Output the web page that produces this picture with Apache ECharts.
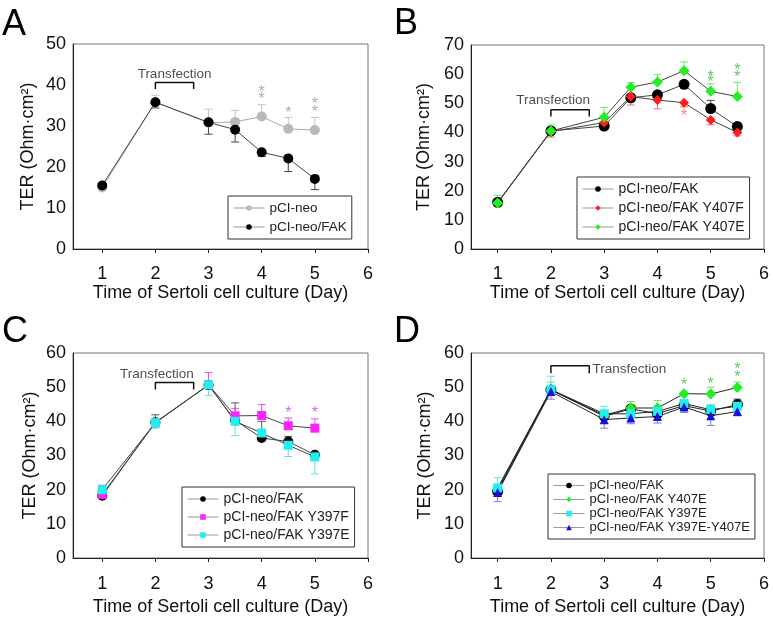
<!DOCTYPE html>
<html><head><meta charset="utf-8">
<script src="https://cdn.jsdelivr.net/npm/echarts@6/dist/echarts.min.js"></script>
<style>html,body{margin:0;padding:0;background:#fff}#c{width:773px;height:617px}</style>
</head><body><div id="c"></div>
<script>
// ---------- Panel A ----------
const xA = [1, 2, 3, 3.5, 4, 4.5, 5];
const A_neo = [15.0, 35.8, 30.8, 31.0, 32.3, 29.3, 29.0];
const A_neo_hi = [null, 37.5, 34.1, 33.8, 35.2, 32.1, 32.1];
const A_fak = [15.5, 35.8, 30.9, 29.1, 23.6, 22.1, 17.1];
const A_fak_lo = [null, 34.4, 28.0, 26.1, 22.6, 18.9, 14.5];
const A_stars = [[4, 38.9], [4, 37.1], [4.5, 33.7], [5, 36.0], [5, 34.1]];
const A_bracket = [[2, 39.0], [2, 40.6], [2.72, 40.6], [2.72, 39.0]];
const A_text = [2.36, 42.6];

// ---------- Panel B ----------
const xB = [1, 2, 3, 3.5, 4, 4.5, 5, 5.5];
const B_fak = [16.0, 40.5, 42.2, 51.9, 52.9, 56.5, 48.2, 42.0];
const B_fak_hi = [null, null, null, null, null, null, 51.0, 43.2];
const B_y407f = [15.8, 40.3, 43.4, 52.3, 51.1, 50.2, 44.3, 40.0];
const B_y407f_lo = [null, 38.4, null, 49.4, 48.1, 48.8, 42.6, 38.8];
const B_y407e = [15.8, 40.5, 45.2, 55.5, 57.3, 61.2, 54.1, 52.3];
const B_y407e_hi = [18.4, 42.6, 48.6, 57.1, 59.9, 64.2, 56.7, 57.2];
const B_red_stars = [[4.5, 46.6]];
const B_green_stars = [[5, 60.0], [5, 58.0], [5.5, 62.2], [5.5, 60.0]];
const B_bracket = [[2, 45.5], [2, 47.8], [2.72, 47.8], [2.72, 45.5]];
const B_text = [2.04, 51.1];

// ---------- Panel C ----------
const xC = [1, 2, 3, 3.5, 4, 4.5, 5];
const C_fak = [18.2, 39.7, 50.6, 40.3, 35.1, 34.1, 30.2];
const C_fak_hi = [null, 41.9, null, 45.4, 40.0, 35.6, 30.8];
const C_y397f = [18.6, 39.6, 50.7, 41.6, 41.7, 38.7, 38.0];
const C_y397f_hi = [21.3, null, 54.3, 43.8, 44.9, 41.0, 40.7];
const C_y397e = [20.0, 39.6, 50.7, 40.0, 36.6, 33.0, 29.6];
const C_y397e_lo = [null, 38.0, 47.5, 35.8, 34.5, 29.7, 24.6];
const C_stars = [[4.5, 43.1], [5, 43.0]];
const C_bracket = [[2, 49.3], [2, 51.4], [2.72, 51.4], [2.72, 49.3]];
const C_text = [2.03, 53.9];

// ---------- Panel D ----------
const xD = [1, 2, 3, 3.5, 4, 4.5, 5, 5.5];
const D_fak = [19.5, 49.2, 41.5, 43.6, 42.3, 44.6, 43.0, 44.9];
const D_fak_hi = [null, null, null, null, null, null, null, 46.5];
const D_y407e = [20.0, 49.2, 41.8, 43.9, 43.9, 48.1, 48.0, 49.9];
const D_y407e_hi = [null, 51.5, null, 45.8, 46.1, null, 50.0, 51.5];
const D_y397e = [20.5, 49.3, 42.2, 42.2, 42.9, 45.2, 43.4, 44.4];
const D_y397e_hi = [23.5, 53.2, 44.4, null, null, 46.3, 44.9, null];
const D_dbl = [19.2, 48.7, 40.5, 41.0, 41.4, 44.2, 41.6, 42.9];
const D_dbl_lo = [16.5, 46.5, 38.0, 39.3, 39.5, 42.6, 38.8, 41.6];
const D_stars = [[4.5, 51.4], [5, 51.7], [5.5, 56.1], [5.5, 53.6]];
const D_bracket = [[2, 54.1], [2, 56.3], [2.72, 56.3], [2.72, 54.1]];
const D_text = [2.78, 55.3];

const xTicks = [1, 2, 3, 4, 5, 6];
const FONT = '"Liberation Sans", Arial, sans-serif';

const chart = echarts.init(document.getElementById('c'), null, {renderer: 'canvas'});

const grids = [
  {left: 73, top: 44, width: 295, height: 205},
  {left: 471, top: 45, width: 293, height: 204},
  {left: 73, top: 353, width: 295, height: 205},
  {left: 471, top: 353, width: 293, height: 205}
];
const xMins = [0.45, 0.5, 0.45, 0.5];
const yMaxs = [50, 70, 60, 60];
const xNameGaps = [35, 35, 40, 40];
const yNameGaps = [36, 38, 34, 37];

const xAxes = grids.map((g, i) => ({
  type: 'value', gridIndex: i, min: xMins[i], max: 6,
  name: 'Time of Sertoli cell culture (Day)', nameLocation: 'middle', nameGap: xNameGaps[i],
  nameTextStyle: {fontFamily: FONT, fontSize: 18, color: '#111'},
  axisLine: {show: true, lineStyle: {color: '#222', width: 1}},
  axisTick: {show: true, inside: false, length: 4, customValues: xTicks, lineStyle: {color: '#222'}},
  axisLabel: {customValues: xTicks, fontFamily: FONT, fontSize: 18, color: '#111', margin: i < 2 ? 16 : 17},
  splitLine: {show: false}
}));
const yAxes = grids.map((g, i) => ({
  type: 'value', gridIndex: i, min: 0, max: yMaxs[i], interval: 10,
  name: 'TER (Ohm\u00B7cm\u00B2)', nameLocation: 'middle', nameGap: yNameGaps[i],
  nameTextStyle: {fontFamily: FONT, fontSize: 18, color: '#111'},
  axisLine: {show: true, lineStyle: {color: '#222', width: 1}},
  axisTick: {show: false},
  axisLabel: {fontFamily: FONT, fontSize: 18, color: '#111', margin: 7},
  splitLine: {show: false}
}));

function lineSeries(g, name, xs, ys, symbol, size, color, lineColor) {
  return {
    type: 'line', name: name, xAxisIndex: g, yAxisIndex: g,
    data: xs.map((x, i) => [x, ys[i]]),
    symbol: symbol, symbolSize: size, showSymbol: true,
    itemStyle: {color: color, borderWidth: 0},
    lineStyle: {color: lineColor, width: 1},
    z: 3, animation: false
  };
}
function errSeries(g, xs, ys, bounds, color) {
  return {
    type: 'custom', xAxisIndex: g, yAxisIndex: g, silent: true, z: 2, animation: false,
    data: xs.map((x, i) => [x, ys[i], bounds[i]]).filter(d => d[2] != null),
    renderItem: function (params, api) {
      const p = api.coord([api.value(0), api.value(1)]);
      const q = api.coord([api.value(0), api.value(2)]);
      return {type: 'group', children: [
        {type: 'line', shape: {x1: p[0], y1: p[1], x2: q[0], y2: q[1]}, style: {stroke: color, lineWidth: 1}},
        {type: 'line', shape: {x1: q[0] - 4, y1: q[1], x2: q[0] + 4, y2: q[1]}, style: {stroke: color, lineWidth: 1}}
      ]};
    }
  };
}
function starSeries(g, pts, color) {
  return {
    type: 'scatter', xAxisIndex: g, yAxisIndex: g, silent: true, z: 5, animation: false,
    data: pts, symbolSize: 0,
    label: {show: true, formatter: '*', position: 'inside', offset: [0, 3],
      fontFamily: FONT, fontSize: 16, color: color}
  };
}
function bracketSeries(g, pts) {
  return {
    type: 'line', xAxisIndex: g, yAxisIndex: g, silent: true, z: 4, animation: false,
    data: pts, symbol: 'none', lineStyle: {color: '#111', width: 1.5}
  };
}
function textSeries(g, pt, align) {
  return {
    type: 'scatter', xAxisIndex: g, yAxisIndex: g, silent: true, z: 5, animation: false,
    data: [pt], symbolSize: 0,
    label: {show: true, formatter: 'Transfection', position: align === 'left' ? 'right' : 'inside',
      distance: 0, fontFamily: FONT, fontSize: 13.5, color: '#222'}
  };
}

const GRAY = '#b9b9b9', BLACK = '#000000', RED = '#ff1c1c', GREEN = '#22ee22',
      MAG = '#ff22ff', CYAN = '#22eeee', BLUE = '#1212dd', LINE = '#444';

const series = [
  // A
  errSeries(0, xA, A_neo, A_neo_hi, '#c4c4c4'),
  errSeries(0, xA, A_fak, A_fak_lo, '#444'),
  lineSeries(0, 'pCI-neo', xA, A_neo, 'circle', 10, GRAY, '#aaaaaa'),
  lineSeries(0, 'pCI-neo/FAK', xA, A_fak, 'circle', 10, BLACK, LINE),
  starSeries(0, A_stars, '#9a9a9a'),
  bracketSeries(0, A_bracket), textSeries(0, A_text, 'center'),
  // B
  errSeries(1, xB, B_fak, B_fak_hi, '#444'),
  errSeries(1, xB, B_y407f, B_y407f_lo, '#ff6a6a'),
  errSeries(1, xB, B_y407e, B_y407e_hi, '#6ee66e'),
  lineSeries(1, 'pCI-neo/FAK', xB, B_fak, 'circle', 11, BLACK, LINE),
  lineSeries(1, 'pCI-neo/FAK Y407F', xB, B_y407f, 'diamond', 10, RED, LINE),
  lineSeries(1, 'pCI-neo/FAK Y407E', xB, B_y407e, 'diamond', 11, GREEN, LINE),
  starSeries(1, B_red_stars, '#ff6a6a'),
  starSeries(1, B_green_stars, '#3cb83c'),
  bracketSeries(1, B_bracket), textSeries(1, B_text, 'center'),
  // C
  errSeries(2, xC, C_fak, C_fak_hi, '#555'),
  errSeries(2, xC, C_y397f, C_y397f_hi, '#dd55ee'),
  errSeries(2, xC, C_y397e, C_y397e_lo, '#66e0e0'),
  lineSeries(2, 'pCI-neo/FAK', xC, C_fak, 'circle', 10, BLACK, LINE),
  lineSeries(2, 'pCI-neo/FAK Y397F', xC, C_y397f, 'rect', 9, MAG, LINE),
  lineSeries(2, 'pCI-neo/FAK Y397E', xC, C_y397e, 'rect', 9, CYAN, LINE),
  starSeries(2, C_stars, '#c044ff'),
  bracketSeries(2, C_bracket), textSeries(2, C_text, 'center'),
  // D
  errSeries(3, xD, D_fak, D_fak_hi, '#444'),
  errSeries(3, xD, D_y407e, D_y407e_hi, '#6ee66e'),
  errSeries(3, xD, D_y397e, D_y397e_hi, '#66e0e0'),
  errSeries(3, xD, D_dbl, D_dbl_lo, '#7878ee'),
  lineSeries(3, 'pCI-neo/FAK', xD, D_fak, 'circle', 11, BLACK, '#222'),
  lineSeries(3, 'pCI-neo/FAK Y407E', xD, D_y407e, 'diamond', 11, GREEN, '#222'),
  lineSeries(3, 'pCI-neo/FAK Y397E', xD, D_y397e, 'rect', 9, CYAN, '#222'),
  lineSeries(3, 'pCI-neo/FAK Y397E-Y407E', xD, D_dbl, 'triangle', 9, BLUE, '#222'),
  starSeries(3, D_stars, '#3cb83c'),
  bracketSeries(3, D_bracket), textSeries(3, D_text, 'left')
];

function legend(left, top, names, fs, gap) {
  return {
    left: left, top: top, orient: 'vertical', data: names,
    itemWidth: 31, itemHeight: 7, itemGap: gap,
    padding: [5, 5, 5, 5], borderColor: '#333', borderWidth: 1,
    backgroundColor: '#fff',
    textStyle: {fontFamily: FONT, fontSize: fs, color: '#222', padding: [0, 0, 0, 0]},
    lineStyle: {color: '#999', width: 1},
    selectedMode: false
  };
}

const option = {
  animation: false,
  backgroundColor: '#fff',
  grid: grids.map(g => Object.assign({show: true, borderColor: '#777', borderWidth: 1, containLabel: false}, g)),
  xAxis: xAxes,
  yAxis: yAxes,
  legend: [
    legend(228, 196, ['pCI-neo', 'pCI-neo/FAK'], 13.5, 5),
    legend(577, 177, ['pCI-neo/FAK', 'pCI-neo/FAK Y407F', 'pCI-neo/FAK Y407E'], 14, 5),
    legend(182, 487, ['pCI-neo/FAK', 'pCI-neo/FAK Y397F', 'pCI-neo/FAK Y397E'], 14, 4),
    legend(548, 474, ['pCI-neo/FAK', 'pCI-neo/FAK Y407E', 'pCI-neo/FAK Y397E', 'pCI-neo/FAK Y397E-Y407E'], 13, 1)
  ],
  graphic: [
    {type: 'text', left: 2, top: 7, style: {text: 'A', font: '36px ' + FONT, fill: '#000'}},
    {type: 'text', left: 394, top: 6, style: {text: 'B', font: '36px ' + FONT, fill: '#000'}},
    {type: 'text', left: 2, top: 314, style: {text: 'C', font: '36px ' + FONT, fill: '#000'}},
    {type: 'text', left: 394, top: 314, style: {text: 'D', font: '36px ' + FONT, fill: '#000'}}
  ],
  series: series
};
chart.setOption(option);
</script>
</body></html>
